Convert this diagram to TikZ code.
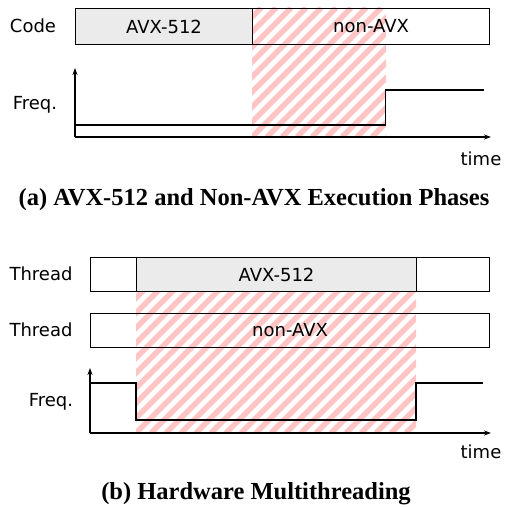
\documentclass[tikz,border=0pt]{standalone}
\usepackage{fontspec}
\setmainfont{DejaVu Sans}
\newfontfamily\capfont{Liberation Serif}
\usetikzlibrary{arrows.meta}
\definecolor{hatchred}{HTML}{FFC4C4}
\definecolor{avxgray}{HTML}{EBEBEB}
\tikzset{
  lbl/.style={font=\fontsize{18}{20}\selectfont, inner sep=0pt},
  seg/.style={draw=black, line width=1.1pt, inner sep=0pt, anchor=north west, font=\fontsize{18}{20}\selectfont},
  avxseg/.style={seg, fill=avxgray},
  axisline/.style={line width=1.1pt, -{Stealth[length=7pt,width=5pt]}},
  freqline/.style={line width=1.1pt},
  hatchline/.style={hatchred, line width=5.5pt},
  captxt/.style={font=\capfont\bfseries\fontsize{24.5}{27}\selectfont, inner sep=0pt}
}
\newcommand{\hatchregion}[4]{% x0 y0 x1 y1 (top-left, bottom-right)
  \begin{scope}
    \clip (#1,#2) rectangle (#3,#4);
    \foreach \k in {-30,...,30} {
      \draw[hatchline] (#1+\k*15,#4) -- (#1+\k*15+#4-#2,#2);
    }
  \end{scope}
}
\begin{document}
\begin{tikzpicture}[x=1pt,y=-1pt]
\useasboundingbox (0,0) rectangle (504,508);
% ---------- (a) ----------
\hatchregion{252}{8}{386}{137}
\node[avxseg, minimum width=177pt, minimum height=36pt] (a512) at (75,8) {AVX-512};
\node[seg, minimum width=237pt, minimum height=36pt] (anon) at (252,8) {non-AVX};
\node[lbl] (acode) at (33,26) {Code};
\node[lbl] (afreq) at (35,105) {Freq.};
\node[lbl] (atime) at (481,159) {time};
\coordinate (ao) at (75,137);
\coordinate (aup) at (75,68);
\coordinate (aright) at (491,137);
\draw[axisline] (ao) -- (aup);
\draw[axisline] (ao) -- (aright);
\coordinate (af1) at (75,125);
\coordinate (af2) at (385.5,125);
\coordinate (af3) at (385.5,90);
\coordinate (af4) at (484,90);
\draw[freqline] (af1) -- (af2) -- (af3) -- (af4);
\node[captxt] (capa) at (254,200) {(a) AVX-512 and Non-AVX Execution Phases};
% ---------- (b) ----------
\hatchregion{136}{275}{416}{433}
\node[seg, minimum width=46pt, minimum height=34pt] (bt1a) at (90,257) {};
\node[avxseg, minimum width=280pt, minimum height=34pt] (bt1b) at (136,257) {AVX-512};
\node[seg, minimum width=73pt, minimum height=34pt] (bt1c) at (416,257) {};
\node[seg, minimum width=399pt, minimum height=34pt] (bt2) at (90,313) {non-AVX};
\node[lbl] (bthr1) at (41,274) {Thread};
\node[lbl] (bthr2) at (41,330) {Thread};
\node[lbl] (bfreq) at (51,402) {Freq.};
\node[lbl] (btime) at (481,452) {time};
\coordinate (bo) at (90,433);
\coordinate (bup) at (90,368);
\coordinate (bright) at (491,433);
\draw[axisline] (bo) -- (bup);
\draw[axisline] (bo) -- (bright);
\coordinate (bf1) at (90,383);
\coordinate (bf2) at (136,383);
\coordinate (bf3) at (136,420);
\coordinate (bf4) at (416,420);
\coordinate (bf5) at (416,383);
\coordinate (bf6) at (483,383);
\draw[freqline] (bf1) -- (bf2) -- (bf3) -- (bf4) -- (bf5) -- (bf6);
\node[captxt] (capb) at (256,494) {(b) Hardware Multithreading};
\end{tikzpicture}
\end{document}
